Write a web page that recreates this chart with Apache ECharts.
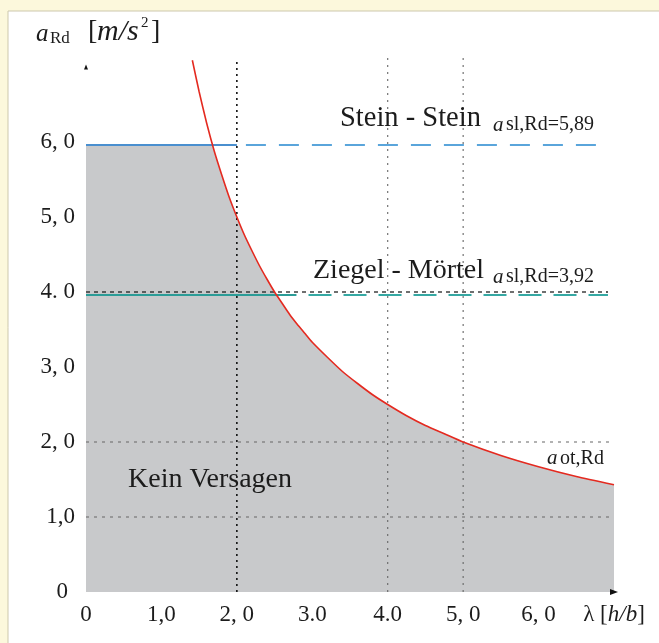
<!DOCTYPE html>
<html>
<head>
<meta charset="utf-8">
<script src="https://cdn.jsdelivr.net/npm/echarts@6/dist/echarts.min.js"></script>
<style>
html, body {margin: 0; padding: 0; background: #fcf8dc;}
#main {width: 659px; height: 643px;}
</style>
</head>
<body>
<div id="main"></div>
<script>
// a_ot,Rd curve
var lambdaVals = [1.41, 1.5, 1.6, 1.7, 1.8, 1.9, 2.0, 2.1, 2.2, 2.3, 2.4, 2.5, 2.6, 2.7, 2.8, 2.9, 3.0, 3.2, 3.4, 3.6, 3.8, 4.0, 4.25, 4.5, 4.75, 5.0, 5.5, 6.0, 6.5, 7.0];
var aOtVals = [7.09, 6.67, 6.25, 5.88, 5.56, 5.26, 5.0, 4.76, 4.55, 4.35, 4.17, 4.0, 3.85, 3.70, 3.57, 3.45, 3.33, 3.13, 2.94, 2.78, 2.63, 2.5, 2.35, 2.22, 2.11, 2.0, 1.82, 1.67, 1.54, 1.43];

// horizontal limits (as drawn)
var steinLevel = 5.96;
var ziegelLevel = 3.96;
var steinCross = 1.68;          // where stein line meets the curve
var steinSolid = [0, 2.0];
var steinDashed = [2.12, 6.92];
var ziegelSolid = [0, 2.79];
var ziegelDashed = [2.95, 6.92];

// helper grid lines
var gridStrongX = [2];
var gridLightX = [4, 5];
var gridStrongY = [4];
var gridLightY = [1, 2];

var xTickLabels = ['0', '1,0', '2, 0', '3.0', '4.0', '5, 0', '6, 0', '{n|λ [}{i|h/b}{n|]}'];
var yTickLabels = ['{z|0}', '1,0', '2, 0', '3, 0', '4. 0', '5, 0', '6, 0'];

var serif = "'Liberation Serif', 'DejaVu Serif', serif";
var ink = '#1c1c1c';

//fill: under stein line, then under the curve
var fillData = [[0, steinLevel], [steinCross, steinLevel]];
for (var i = 0; i < lambdaVals.length; i++) {
    if (lambdaVals[i] > steinCross) fillData.push([lambdaVals[i], aOtVals[i]]);
}
var curveData = lambdaVals.map(function (l, i) { return [l, aOtVals[i]]; });

function vLines(xs, top) {
    var d = [];
    xs.forEach(function (x) { d.push([x, 0], [x, top], ['-', '-']); });
    return d;
}
function hLines(ys, right) {
    var d = [];
    ys.forEach(function (y) { d.push([0, y], [right, y], ['-', '-']); });
    return d;
}
function seg(range, level) {
    return [[range[0], level], [range[1], level]];
}

function txt(x, y, s, size, italic) {
    return {
        type: 'text', x: x, y: y, z: 10, silent: true,
        style: {
            text: s, fill: ink,
            font: (italic ? 'italic ' : '') + size + 'px ' + serif,
            align: 'left', verticalAlign: 'middle',
            textAlign: 'left', textVerticalAlign: 'middle'
        }
    };
}

var chart = echarts.init(document.getElementById('main'));
chart.setOption({
    backgroundColor: '#fcf8dc',
    animation: false,
    graphic: [
        {type: 'rect', z: -10, silent: true, shape: {x: 8, y: 11, width: 660, height: 640},
            style: {fill: '#ffffff', stroke: '#cdc8ad', lineWidth: 1}},
        // axis title
        txt(36, 34, 'a', 25, true),
        txt(50, 39, 'Rd', 17, false),
        txt(88, 32, '[', 28, false),
        txt(97, 32, 'm/s', 30, true),
        txt(141, 23, '2', 15, false),
        txt(151, 32, ']', 28, false),
        // annotations
        txt(340, 119, 'Stein - Stein', 28.5, false),
        txt(493, 125, 'a', 21, true),
        txt(506, 125, 'sl,Rd=5,89', 20, false),
        txt(313, 271, 'Ziegel - Mörtel', 28, false),
        txt(493, 277, 'a', 21, true),
        txt(506, 277, 'sl,Rd=3,92', 20, false),
        txt(547, 458, 'a', 21, true),
        txt(560, 459, 'ot,Rd', 20, false),
        txt(128, 480, 'Kein Versagen', 28, false)
    ],
    grid: {left: 86, right: 45, top: 52, bottom: 51},
    xAxis: {
        type: 'value', min: 0, max: 7, interval: 1,
        axisLine: {show: false}, axisTick: {show: false}, splitLine: {show: false},
        axisLabel: {
            margin: 11, color: ink, fontFamily: serif, fontSize: 23,
            formatter: function (v) { return xTickLabels[Math.round(v)] || ''; },
            rich: {
                n: {fontFamily: serif, fontSize: 23, color: ink},
                i: {fontFamily: serif, fontSize: 23, color: ink, fontStyle: 'italic'}
            }
        }
    },
    yAxis: {
        type: 'value', min: 0, max: 7.2, interval: 1,
        axisLine: {show: false}, axisTick: {show: false}, splitLine: {show: false},
        axisLabel: {
            margin: 11, color: ink, fontFamily: serif, fontSize: 23,
            formatter: function (v) {
                if (Math.abs(v - Math.round(v)) > 1e-6) return '';
                return yTickLabels[Math.round(v)] || '';
            },
            rich: {
                z: {fontFamily: serif, fontSize: 23, color: ink, padding: [0, 7, 0, 0]}
            }
        }
    },
    series: [
        {
            name: 'Kein Versagen', type: 'line', z: 1, data: fillData,
            symbol: 'none', lineStyle: {width: 0}, silent: true,
            areaStyle: {color: '#c8c9cb', opacity: 1},
            markPoint: {
                silent: true, symbol: 'triangle', label: {show: false},
                itemStyle: {color: '#111'},
                data: [
                    {coord: [7, 0], symbolSize: [6, 8], symbolRotate: -90},
                    {coord: [0, 7], symbolSize: [4, 5]}
                ]
            }
        },
        {type: 'line', z: 2, silent: true, symbol: 'none', clip: false, data: vLines(gridStrongX, 7.09),
            lineStyle: {color: '#111', width: 1.6, type: [2, 4]}},
        {type: 'line', z: 2, silent: true, symbol: 'none', clip: false, data: vLines(gridLightX, 7.16),
            lineStyle: {color: '#666', width: 1.1, type: [2, 5]}},
        {type: 'line', z: 2, silent: true, symbol: 'none', clip: false, data: hLines(gridStrongY, 6.92),
            lineStyle: {color: '#222', width: 1.3, type: [4, 4]}},
        {type: 'line', z: 2, silent: true, symbol: 'none', clip: false, data: hLines(gridLightY, 7.0),
            lineStyle: {color: '#666', width: 1.1, type: [3, 5]}},
        {name: 'Stein', type: 'line', z: 3, silent: true, symbol: 'none', data: seg(steinSolid, steinLevel),
            lineStyle: {color: '#4a8fcf', width: 2}},
        {type: 'line', z: 3, silent: true, symbol: 'none', data: seg(steinDashed, steinLevel),
            lineStyle: {color: '#5aa5db', width: 2, type: [20, 13]}},
        {name: 'Ziegel', type: 'line', z: 3, silent: true, symbol: 'none', data: seg(ziegelSolid, ziegelLevel),
            lineStyle: {color: '#2b9c97', width: 2}},
        {type: 'line', z: 3, silent: true, symbol: 'none', data: seg(ziegelDashed, ziegelLevel),
            lineStyle: {color: '#35a8a3', width: 2, type: [23, 12]}},
        {name: 'a_ot,Rd', type: 'line', z: 4, silent: true, symbol: 'none', data: curveData,
            smooth: 0.2,
            lineStyle: {color: '#e42a20', width: 1.6}}
    ]
});
</script>
</body>
</html>
